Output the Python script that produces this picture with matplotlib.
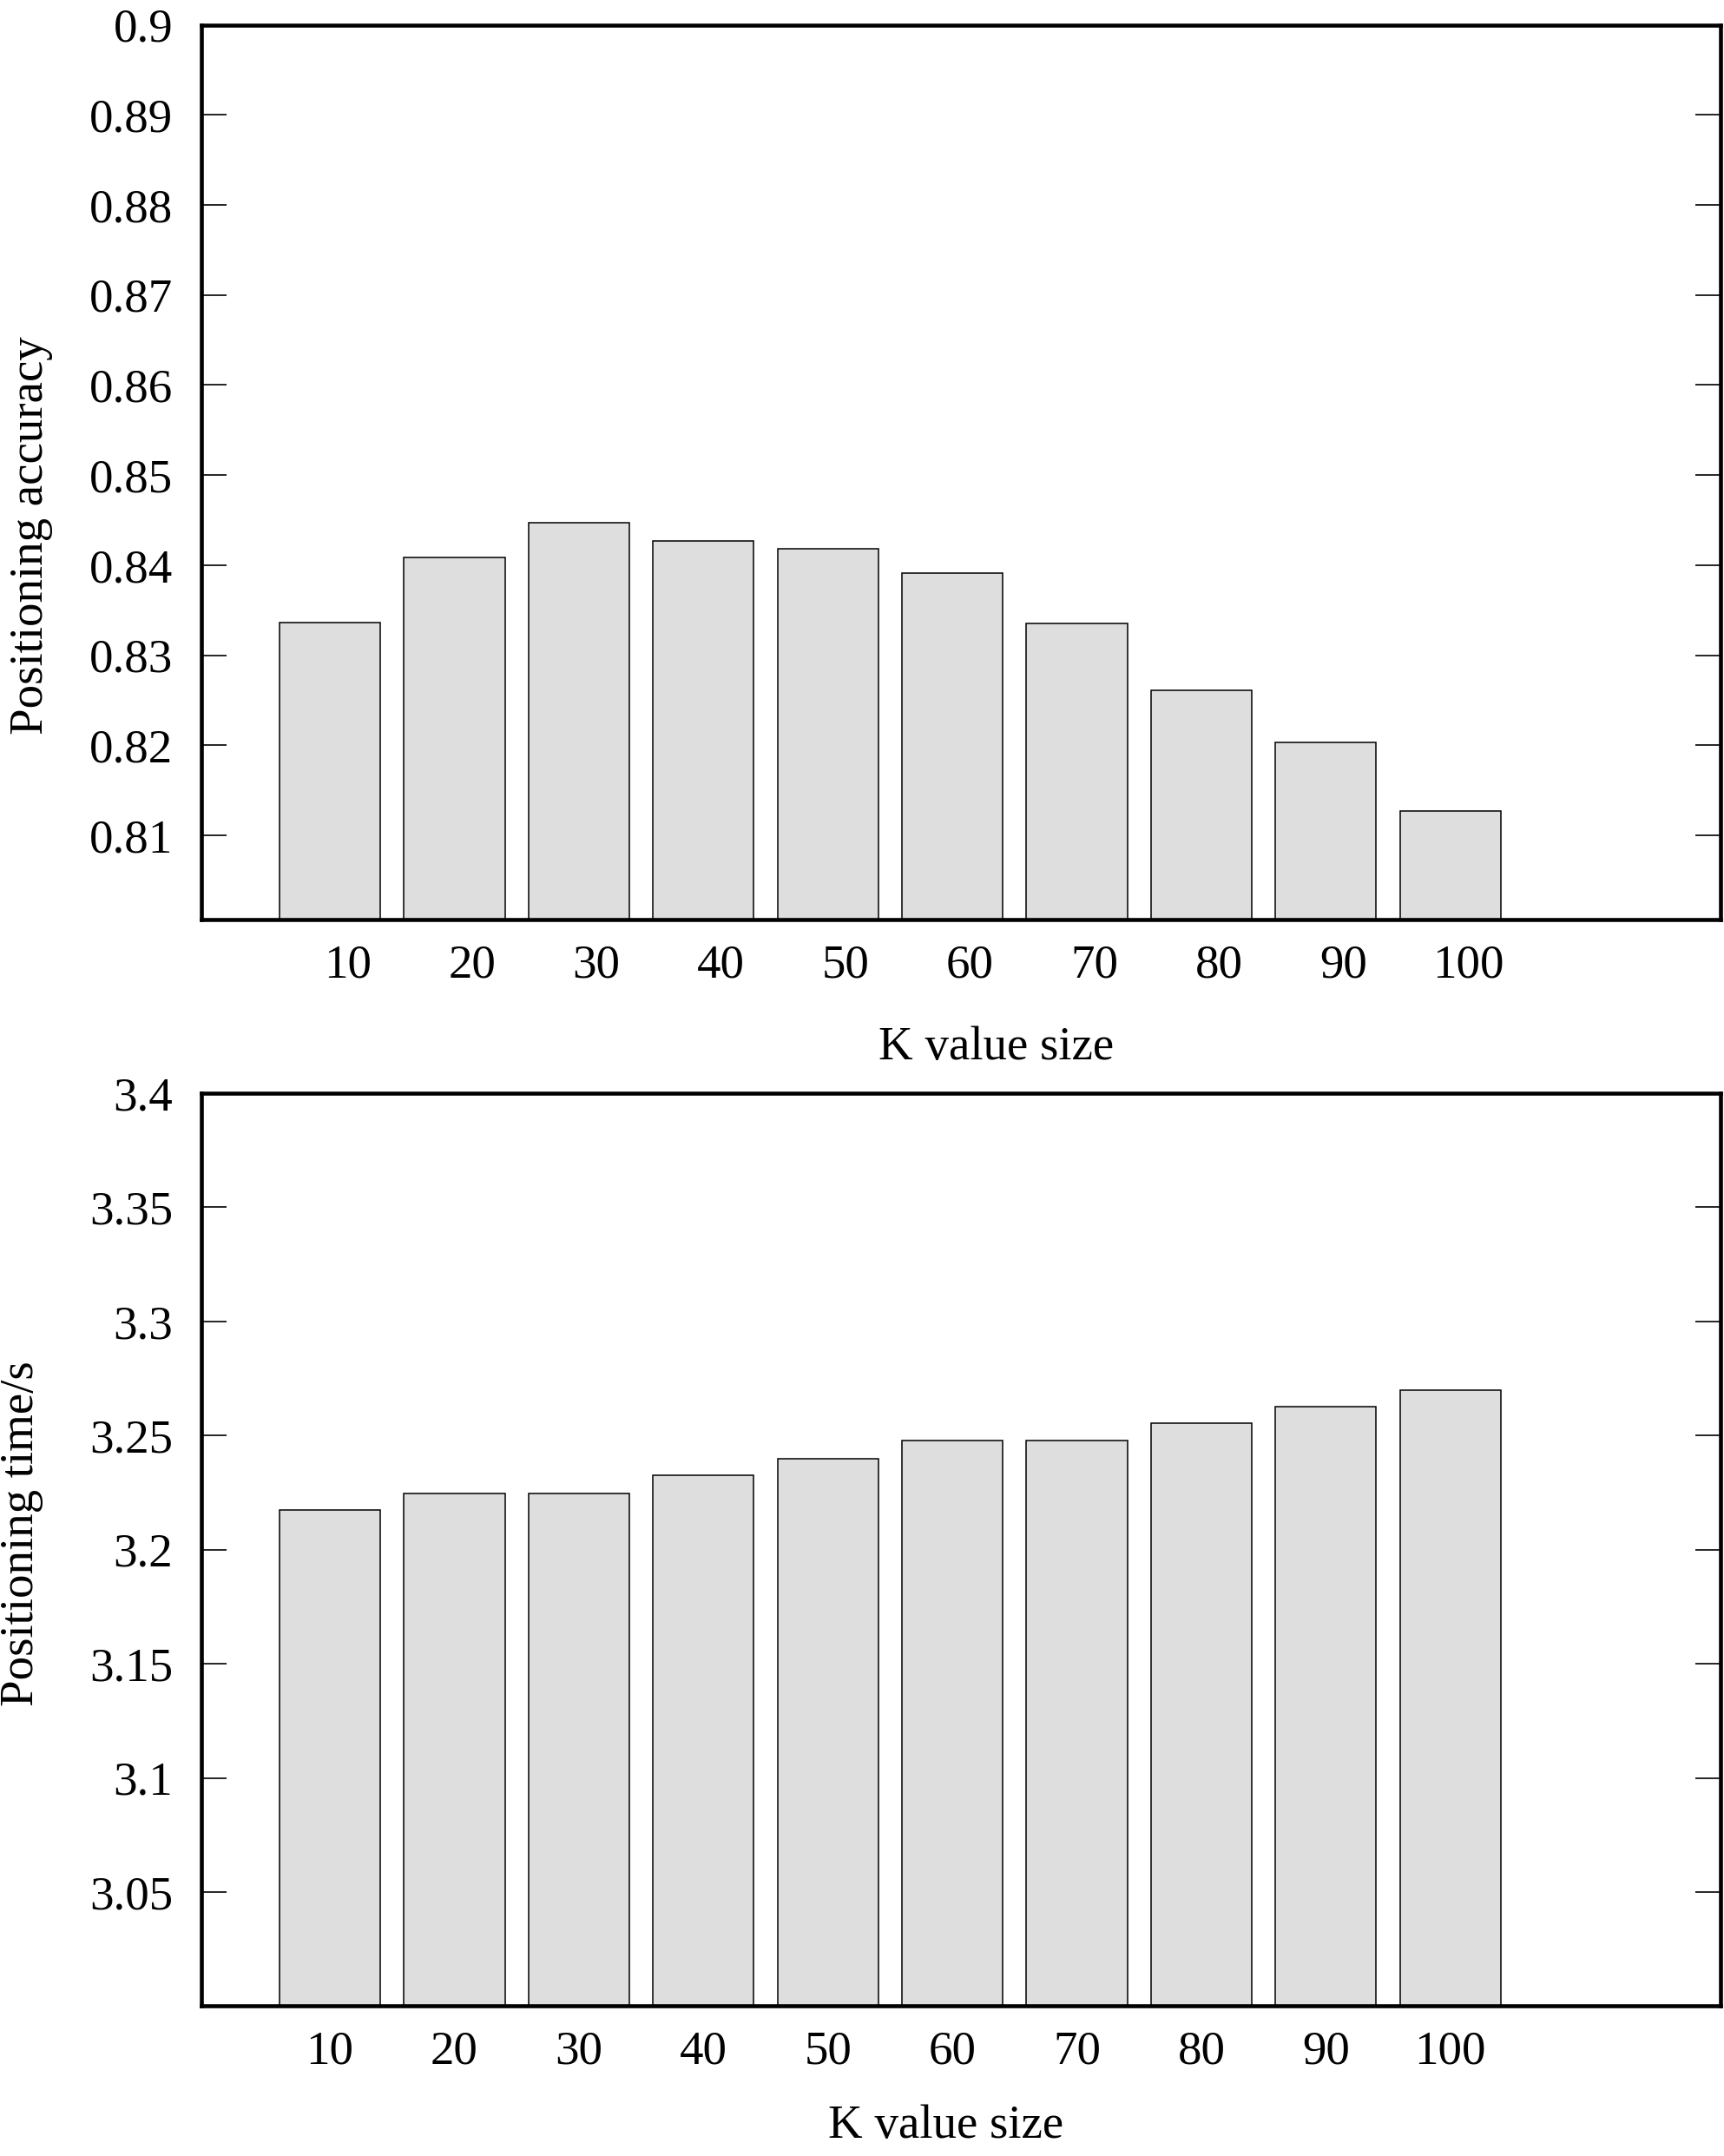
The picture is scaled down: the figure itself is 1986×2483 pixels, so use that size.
import numpy as np
import matplotlib
matplotlib.use("Agg")
import matplotlib.pyplot as plt

plt.rcParams['font.family'] = ['Liberation Serif', 'DejaVu Serif']

# data
k_values = ['10', '20', '30', '40', '50', '60', '70', '80', '90', '100']
accuracy = [0.8336, 0.8409, 0.8447, 0.8427, 0.8418, 0.8391, 0.8335, 0.8261, 0.8203, 0.8127]
pos_time = [3.2175, 3.2247, 3.2247, 3.2325, 3.240, 3.2478, 3.2478, 3.2553, 3.2628, 3.270]

acc_ticks = [0.81, 0.82, 0.83, 0.84, 0.85, 0.86, 0.87, 0.88, 0.89, 0.9]
acc_labels = ['0.81', '0.82', '0.83', '0.84', '0.85', '0.86', '0.87', '0.88', '0.89', '0.9']
time_ticks = [3.05, 3.1, 3.15, 3.2, 3.25, 3.3, 3.35, 3.4]
time_labels = ['3.05', '3.1', '3.15', '3.2', '3.25', '3.3', '3.35', '3.4']

FS = 39.5
fig = plt.figure(figsize=(19.86, 24.83), dpi=100)


def style_axes(ax, ylim, yticks, ylabels, ylabel, ylab_xy, xlab_xy, xtick_shift):
    x = np.arange(len(k_values))
    ax.set_xlim(-1.03, 11.17)
    ax.set_ylim(*ylim)
    ax.set_yticks(yticks)
    ax.set_yticklabels(ylabels)
    ax.set_xticks(x + xtick_shift)
    ax.set_xticklabels(k_values)
    ax.tick_params(axis='y', direction='in', length=21, width=1.2, pad=24,
                   labelsize=FS, right=True)
    ax.tick_params(axis='x', length=0, pad=20, labelsize=FS)
    for s in ax.spines.values():
        s.set_linewidth(3.3)
    ax.set_ylabel(ylabel, fontsize=FS)
    ax.yaxis.set_label_coords(*ylab_xy)
    ax.set_xlabel('K value size', fontsize=FS)
    ax.xaxis.set_label_coords(*xlab_xy)


x = np.arange(len(k_values))

ax1 = fig.add_axes([0.117, 0.5733, 0.881, 0.4152])
ax1.bar(x, accuracy, width=0.81, color='#dedede', edgecolor='black', linewidth=1.1)
style_axes(ax1, (0.8006, 0.90), acc_ticks, acc_labels, 'Positioning accuracy',
           (-0.098, 0.43), (0.523, -0.118), 0.14)

ax2 = fig.add_axes([0.117, 0.0695, 0.881, 0.4235])
ax2.bar(x, pos_time, width=0.81, color='#dedede', edgecolor='black', linewidth=1.1)
style_axes(ax2, (3.0, 3.4), time_ticks, time_labels, 'Positioning time/s',
           (-0.104, 0.518), (0.49, -0.108), 0.0)

fig.savefig('out.png', dpi=100)
